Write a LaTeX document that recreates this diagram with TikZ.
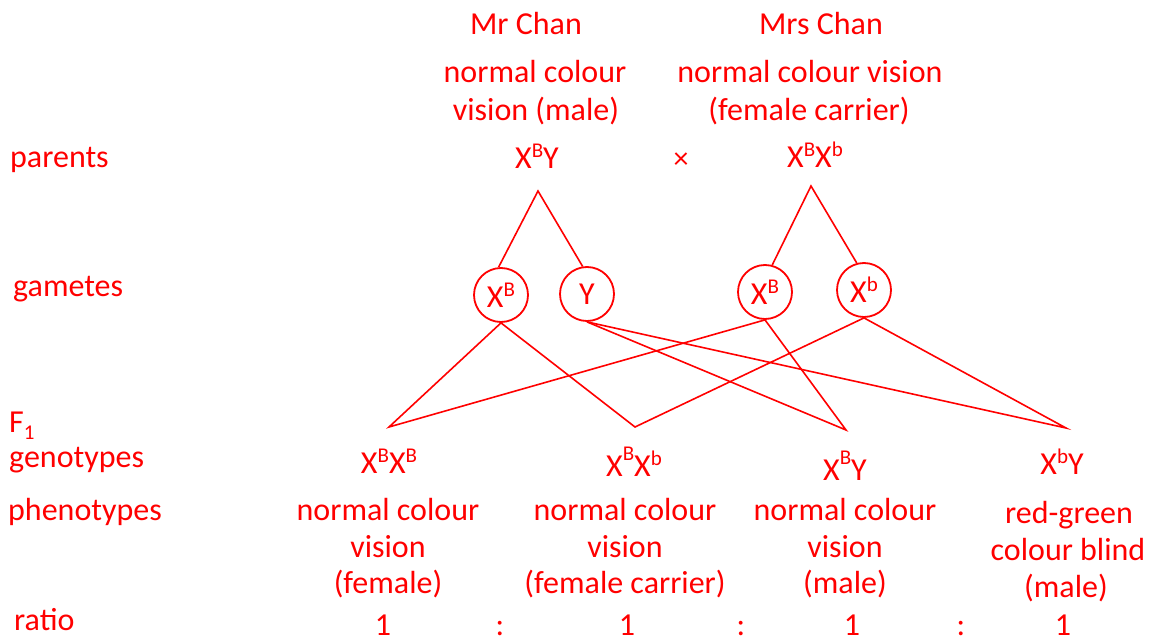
\documentclass[tikz,border=0pt]{standalone}
\usepackage{fontspec}
\setmainfont{Carlito}
\definecolor{gred}{RGB}{255,0,0}
% raised / lowered small letters for allele symbols
\newcommand\sps[1]{\raisebox{11pt}{\fontsize{21}{21}\selectfont #1}}
\newcommand\spsh[1]{\raisebox{16pt}{\fontsize{21}{21}\selectfont #1}}
\newcommand\sbs[1]{\raisebox{-7pt}{\fontsize{21}{21}\selectfont #1}}
\begin{document}
\begin{tikzpicture}[x=1pt,y=-1pt,
  every node/.style={text=gred, inner sep=0pt, font=\fontsize{32}{36}\selectfont},
  lbl/.style={anchor=base},
  rowlbl/.style={anchor=base west},
  gamete/.style={circle, draw=gred, line width=1.8pt, minimum size=54pt},
  link/.style={draw=gred, line width=1.6pt, line join=miter}]
\useasboundingbox (0,0) rectangle (1152,639);

% parents
\node[lbl] (mr)    at (526,35)  {Mr Chan};
\node[lbl] (mrd1)  at (535,83)  {normal colour};
\node[lbl] (mrd2)  at (536,121) {vision (male)};
\node[lbl] (mrs)   at (821,35)  {Mrs Chan};
\node[lbl] (mrsd1) at (810,83)  {normal colour vision};
\node[lbl] (mrsd2) at (809,121) {(female carrier)};
\node[lbl] (pm)    at (537,169) {X\sps{B}Y};
\node[lbl] (pf)    at (815,168) {X\sps{B}X\sps{b}};
\node[font=\fontsize{30}{30}\selectfont] (cross) at (681,161) {×};

% row labels
\node[rowlbl] (rp)    at (10,168) {parents};
\node[rowlbl] (rg)    at (13,297) {gametes};
\node[rowlbl] (rf)    at (9,432)  {F\sbs{1}};
\node[rowlbl] (rgen)  at (9,467)  {genotypes};
\node[rowlbl] (rphen) at (8,520)  {phenotypes};
\node[rowlbl] (rr)    at (14,630) {ratio};

% gametes
\node[gamete] (g1) at (501,295) {X\sps{B}};
\node[gamete] (g2) at (587,294) {Y};
\node[gamete] (g3) at (765,292) {X\sps{B}};
\node[gamete] (g4) at (864,290) {X\sps{b}};

\coordinate (am) at (538,191);
\coordinate (af) at (811,186);
\draw[link] (g1.95) -- (am) -- (g2.99);
\draw[link] (g3.75) -- (af) -- (g4.105);

% offspring meeting points
\coordinate (o1) at (389,427);
\coordinate (o2) at (635,427);
\coordinate (o3) at (846,430);
\coordinate (o4) at (1066,428);
\draw[link] (g1.south) -- (o1) -- (g3.south);
\draw[link] (g1.south) -- (o2) -- (g4.south);
\draw[link] (g2.south) -- (o3) -- (g3.south);
\draw[link] (g2.south) -- (o4) -- (g4.south);

% F1 genotypes
\node[lbl] (x1) at (389,473)  {X\sps{B}X\sps{B}};
\node[lbl] (x2) at (634,476)  {X\spsh{B}X\sps{b}};
\node[lbl] (x3) at (845,480)  {X\spsh{B}Y};
\node[lbl] (x4) at (1062,474) {X\sps{b}Y};

% phenotypes
\node[lbl] (p1a) at (388,520) {normal colour};
\node[lbl] (p1b) at (388,557) {vision};
\node[lbl] (p1c) at (388,593) {(female)};
\node[lbl] (p2a) at (625,520) {normal colour};
\node[lbl] (p2b) at (625,557) {vision};
\node[lbl] (p2c) at (625,593) {(female carrier)};
\node[lbl] (p3a) at (845,520) {normal colour};
\node[lbl] (p3b) at (845,557) {vision};
\node[lbl] (p3c) at (845,593) {(male)};
\node[lbl] (p4a) at (1069,523) {red-green};
\node[lbl] (p4b) at (1068,560) {colour blind};
\node[lbl] (p4c) at (1066,597) {(male)};

% ratio
\node[lbl] (r1) at (383,635)  {1};
\node[lbl] (c1) at (500,635)  {:};
\node[lbl] (r2) at (627,635)  {1};
\node[lbl] (c2) at (741,635)  {:};
\node[lbl] (r3) at (852,635)  {1};
\node[lbl] (c3) at (961,635)  {:};
\node[lbl] (r4) at (1063,635) {1};
\end{tikzpicture}
\end{document}
